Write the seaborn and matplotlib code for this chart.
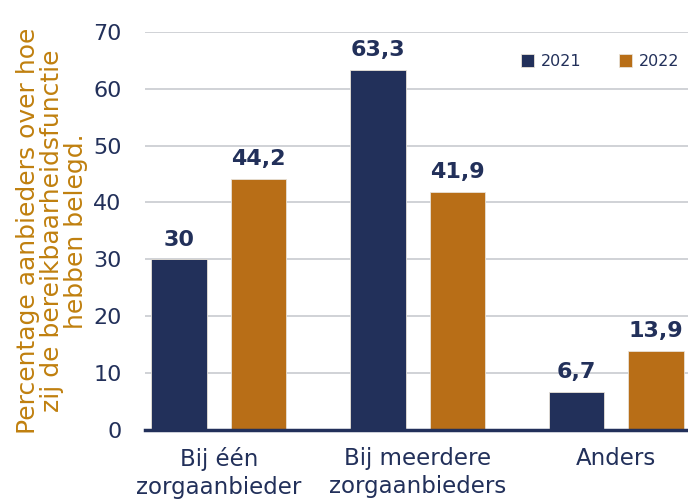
import numpy as np
import pandas as pd
import seaborn as sns
import matplotlib.pyplot as plt

categories = ['Bij één\nzorgaanbieder', 'Bij meerdere\nzorgaanbieders', 'Anders']
years = ['2021', '2022']
values_2021 = [30, 63.3, 6.7]
values_2022 = [44.2, 41.9, 13.9]

navy = '#22305A'
orange = '#B86E17'
gold = '#C0800F'

df = pd.DataFrame({
    'categorie': categories * 2,
    'jaar': [years[0]] * 3 + [years[1]] * 3,
    'waarde': values_2021 + values_2022,
})

sns.set_theme(style='white')
plt.rcParams['font.family'] = ['DejaVu Sans']

fig = plt.figure(figsize=(6.88, 5.04), dpi=100)
ax = fig.add_axes([0.211, 0.147, 0.789, 0.79])

sns.barplot(data=df, x='categorie', y='waarde', hue='jaar',
            palette=[navy, orange], saturation=1, width=0.8, gap=0.3,
            edgecolor='#e8e2d8', linewidth=0.6, ax=ax, zorder=3)

for cont, vals in zip(ax.containers, [values_2021, values_2022]):
    labels = [('%g' % v).replace('.', ',') for v in vals]
    ax.bar_label(cont, labels=labels, padding=7, fontsize=16,
                 fontweight='bold', color=navy)

ax.set_ylim(0, 70)
ax.set_xlim(-0.37, 2.36)
ax.set_yticks(range(0, 71, 10))
ax.yaxis.grid(True, color='#c3c6cc', linewidth=1.1, zorder=0)
ax.tick_params(axis='y', labelsize=16, colors=navy, length=0, pad=17)
ax.tick_params(axis='x', labelsize=16.5, colors=navy, length=0, pad=12)
for lbl in ax.get_xticklabels():
    lbl.set_linespacing(1.32)
for s in ['top', 'right', 'left']:
    ax.spines[s].set_visible(False)
ax.spines['bottom'].set_color(navy)
ax.spines['bottom'].set_linewidth(2.5)
ax.spines['bottom'].set_zorder(4)

ax.set_xlabel('')
ax.set_ylabel('Percentage aanbieders over hoe\nzij de bereikbaarheidsfunctie\nhebben belegd.',
              fontsize=18, color=gold, linespacing=1.0, labelpad=4)

leg = ax.legend(loc='upper right', bbox_to_anchor=(1.01, 0.98), ncol=2,
                frameon=False, fontsize=11.5, handlelength=0.8, handleheight=0.8,
                columnspacing=2.4, handletextpad=0.4, title=None)
for t in leg.get_texts():
    t.set_color(navy)

fig.savefig('out.png', dpi=100)
